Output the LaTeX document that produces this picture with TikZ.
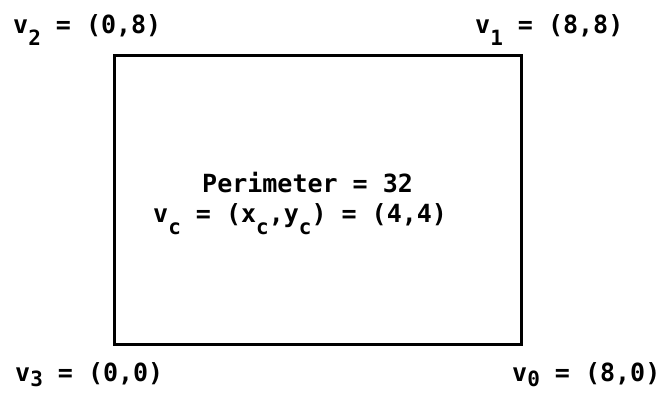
\documentclass[tikz,border=0pt]{standalone}
\usepackage{fontspec}
\newfontfamily\twfont{DejaVu Sans Mono}[BoldFont={DejaVu Sans Mono Bold}]
\newcommand{\lowsub}[2][-12pt]{\raisebox{#1}{\fontsize{21}{21}\selectfont #2}}
\begin{document}
\begin{tikzpicture}[x=1pt,y=-1pt,
  lbl/.style={anchor=base west,inner sep=0pt,font=\twfont\bfseries\fontsize{25}{30}\selectfont},
  box/.style={line width=3pt,line join=miter}]
\useasboundingbox (0,0) rectangle (664,394);
\coordinate (tl) at (114,55);
\coordinate (br) at (521,344);
\draw[box] (tl) rectangle (br);
\node[lbl] (v2) at (13,33) {v\lowsub{2} = (0,8)};
\node[lbl] (v1) at (475,33) {v\lowsub{1} = (8,8)};
\node[lbl] (v3) at (15,381) {v\lowsub[-5pt]{3} = (0,0)};
\node[lbl] (v0) at (512,381) {v\lowsub[-5pt]{0} = (8,0)};
\node[lbl] (perim) at (202,192) {Perimeter = 32};
\node[lbl] (vc) at (153,222) {v\lowsub{c} = (x\lowsub{c},y\lowsub{c}) = (4,4)};
\end{tikzpicture}
\end{document}
